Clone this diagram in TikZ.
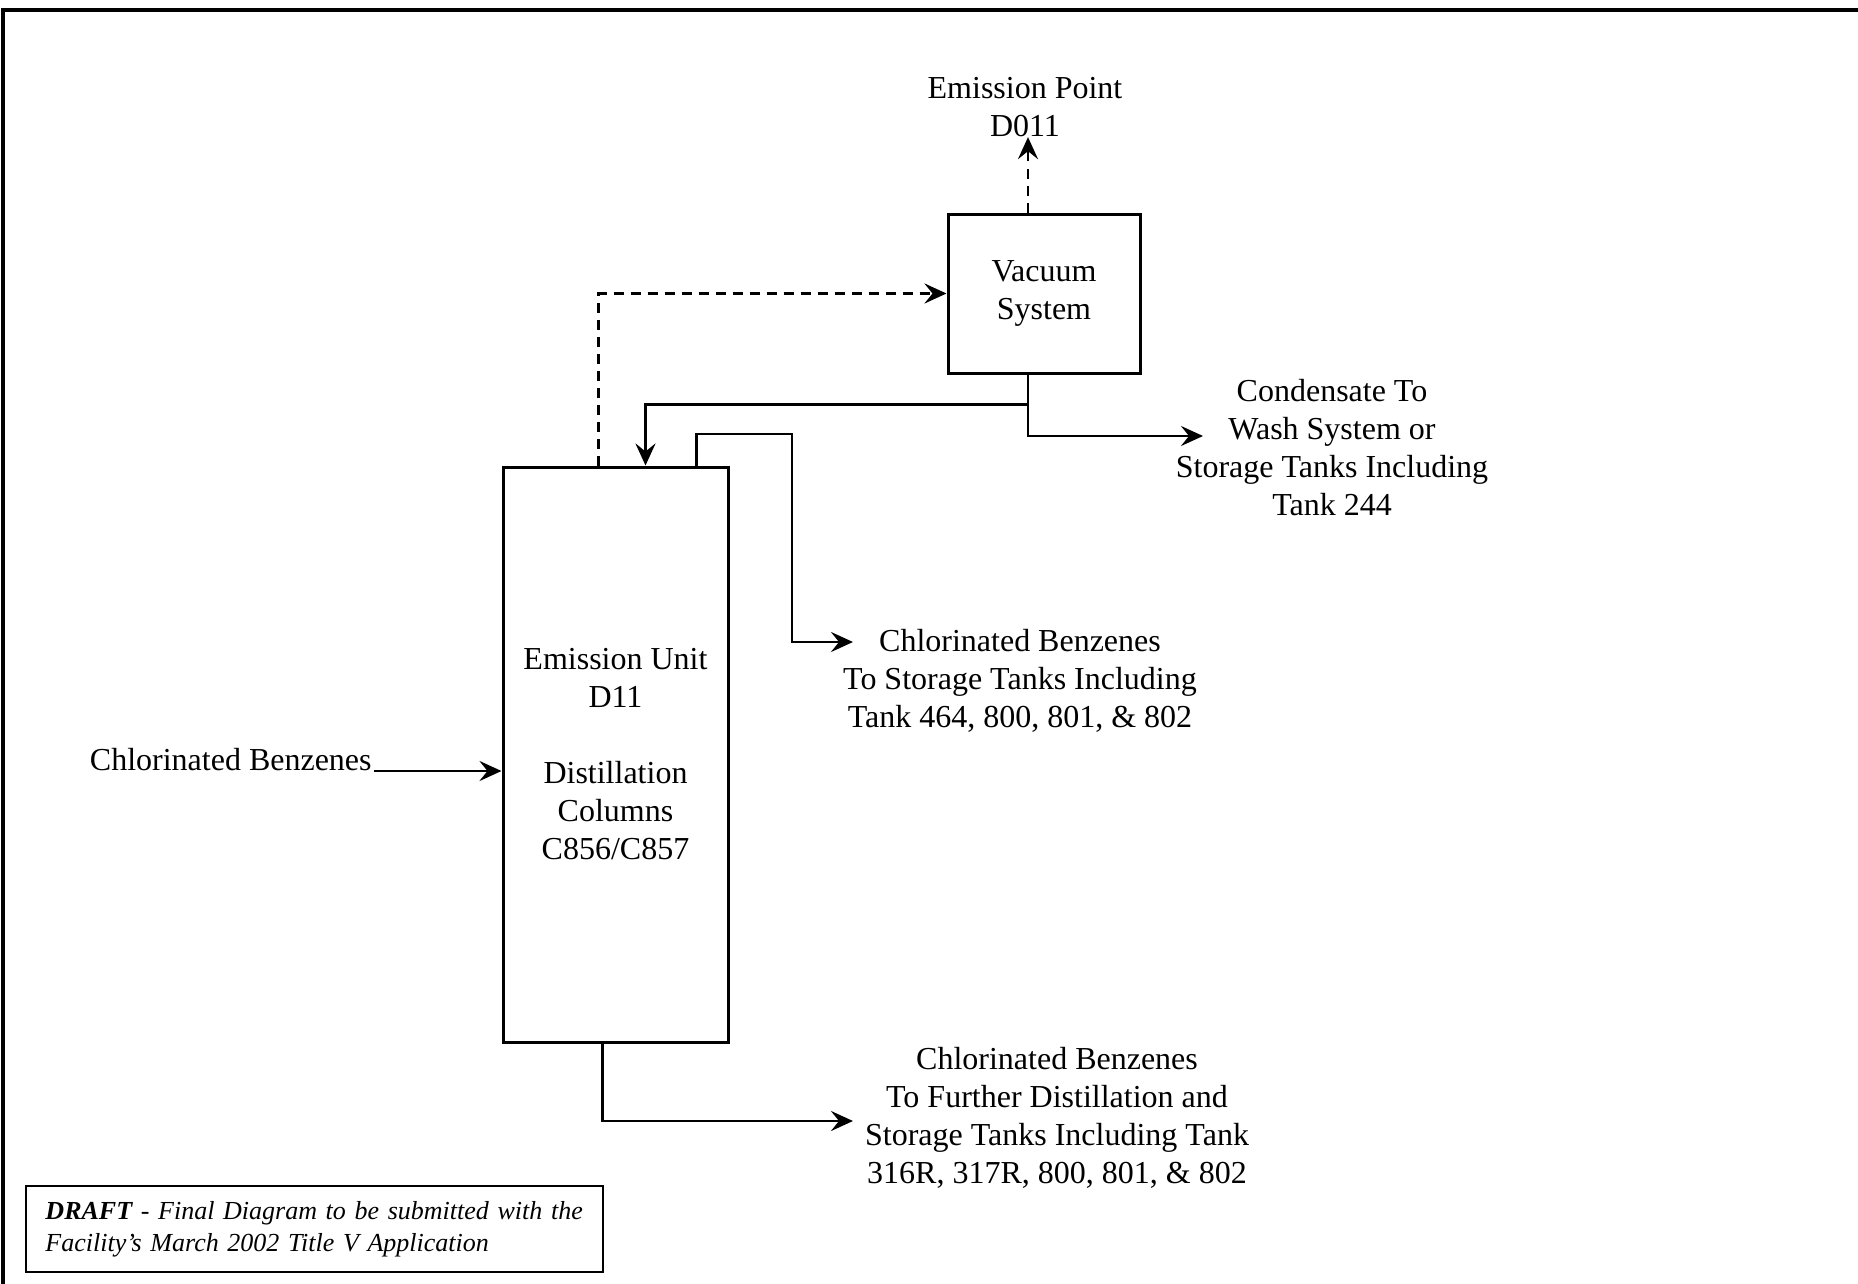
\documentclass[tikz,border=0pt]{standalone}
\usepackage{fontspec}
\setmainfont{Liberation Serif}
\usetikzlibrary{arrows.meta,positioning}

\tikzset{
	unitbox/.style={draw, line width=1.5pt, inner sep=0pt, align=center, font=\fontsize{16}{19}\selectfont},
	flowtxt/.style={align=center, inner sep=0pt, font=\fontsize{16}{19}\selectfont},
	flow/.style={line width=1.4pt, -{Stealth[length=11pt,width=10pt,inset=4pt]}},
	vent/.style={flow, dash pattern=on 5pt off 3.5pt},
}

\begin{document}
\begin{tikzpicture}[x=0.5pt,y=-0.5pt]
				\useasboundingbox (0,0) rectangle (1858,1284);
				\draw[line width=2pt] (3,1284) -- (3,10) -- (1858,10);% page frame
				
				\node[unitbox, minimum width=96pt, minimum height=79.5pt] (vac) at (1044,293.5) {Vacuum\\System};
				\node[unitbox, minimum width=112.5pt, minimum height=287.5pt] (eu) at (615.5,754.5) {Emission Unit\\D11\\[19pt]Distillation\\Columns\\C856/C857};
				
				\node[flowtxt] (emitpt) at (1025,107) {Emission Point\\D011};
				\node[flowtxt, anchor=east] (feed) at (372,760) {Chlorinated Benzenes};
				\node[flowtxt] (cond) at (1332,448) {Condensate To\\Wash System or\\Storage Tanks Including\\Tank 244};
				\node[flowtxt] (lights) at (1020,681) {Chlorinated Benzenes\\To Storage Tanks Including\\Tank 464, 800, 801, \& 802};
				\node[flowtxt] (bottoms) at (1057,1118) {Chlorinated Benzenes\\To Further Distillation and\\Storage Tanks Including Tank\\316R, 317R, 800, 801, \& 802};
				
				\coordinate (vacvent)   at ([xshift=-8pt]vac.north);
				\coordinate (vacdrain)  at ([xshift=-8pt]vac.south);
				\coordinate (split)     at ([yshift=-15pt]vacdrain);
				\coordinate (ventfoot)  at ([xshift=48.5pt]eu.north west);
				\coordinate (refluxin)  at ([xshift=72pt]eu.north west);
				\coordinate (topout)    at ([xshift=97.5pt]eu.north west);
				\coordinate (botout)    at ([xshift=50.5pt]eu.south west);
				\coordinate (ovhd)      at (792,434);
				\coordinate (condend)   at (1203,436);
				\coordinate (lightsend) at (853,642);
				\coordinate (botsend)   at (853,1121);
				\coordinate (feedstart) at (374,771);
				
				\draw[vent] (vacvent) -- (vacvent |- emitpt.south);% to emission point
				\draw[vent] (ventfoot) |- (vac.west);% column vent to vacuum
				\draw[flow] (vacdrain) -- (split) -| (refluxin);% reflux back to column
				\draw[flow] (split) |- (condend);% condensate out
				\draw[flow] (topout) |- (ovhd) |- (lightsend);% overheads
				\draw[flow] (feedstart) -- (feedstart -| eu.west);% feed
				\draw[flow] (botout) |- (botsend);% bottoms
				
				\node[draw, line width=1.3pt, minimum width=288.5pt, minimum height=43pt, text width=269pt, inner xsep=9.5pt, align=left, font=\itshape\fontsize{13}{16}\selectfont] (draft) at (314.5,1229) {\textbf{DRAFT} - Final Diagram to be submitted with the\\Facility's March 2002 Title V Application};
\end{tikzpicture}
\end{document}
